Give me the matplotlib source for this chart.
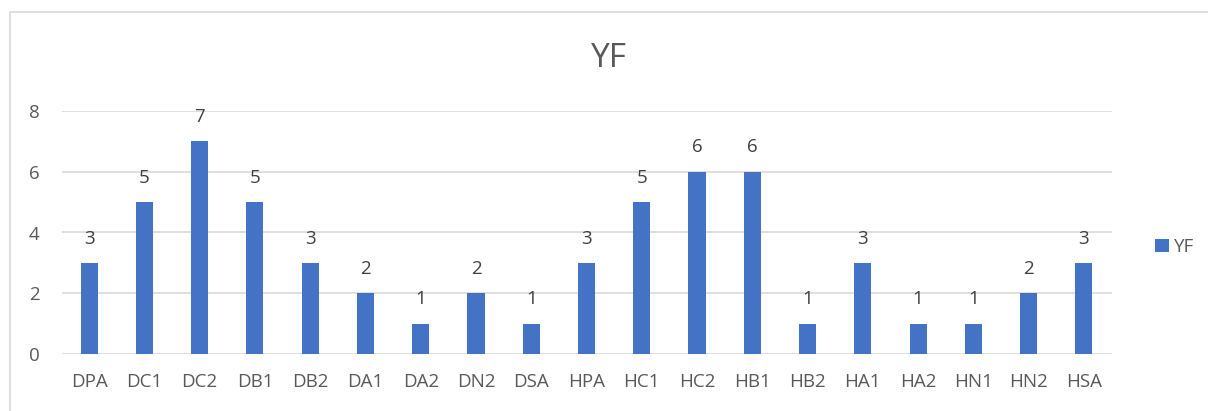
import matplotlib
matplotlib.use("Agg")
import matplotlib.pyplot as plt
from matplotlib.patches import Rectangle

# Datos del grafico
categorias = ["DPA", "DC1", "DC2", "DB1", "DB2", "DA1", "DA2", "DN2", "DSA",
              "HPA", "HC1", "HC2", "HB1", "HB2", "HA1", "HA2", "HN1", "HN2", "HSA"]
valores_yf = [3, 5, 7, 5, 3, 2, 1, 2, 1, 3, 5, 6, 6, 1, 3, 1, 1, 2, 3]
ticks_y = [0, 2, 4, 6, 8]

AZUL = "#4472C4"
GRIS_TXT = "#595959"
GRIS_LINEA = "#D9D9D9"

plt.rcParams["font.family"] = ["Open Sans", "DejaVu Sans"]

W, H = 1208, 411
fig = plt.figure(figsize=(W / 100, H / 100), dpi=100)

# Marco exterior del grafico (estilo Excel)
fig.patches.append(Rectangle((10 / W, -0.1), 1.2, (H - 12) / H + 0.1,
                             transform=fig.transFigure, fill=False,
                             edgecolor=GRIS_LINEA, linewidth=1.2))

izq, der, abajo, arriba = 61.5, 1111.5, 354, 111
ax = fig.add_axes([izq / W, (H - abajo) / H, (der - izq) / W, (abajo - arriba) / H])

x = list(range(len(categorias)))
barras = ax.bar(x, valores_yf, width=0.31, color=AZUL, label="YF", zorder=3)

for xi, v in zip(x, valores_yf):
    ax.annotate(str(v), (xi, v), xytext=(0, 11), textcoords="offset points",
                ha="center", va="bottom", fontsize=13.5, color="#404040")

ax.set_xlim(-0.5, len(categorias) - 0.5)
ax.set_ylim(0, 8)
ax.set_yticks(ticks_y)
ax.set_xticks(x)
ax.set_xticklabels(categorias)
ax.tick_params(axis="both", length=0, labelsize=13.5, labelcolor=GRIS_TXT)
ax.tick_params(axis="y", pad=16)
ax.tick_params(axis="x", pad=14)
ax.grid(axis="y", color=GRIS_LINEA, linewidth=1.2, zorder=0)
for lado in ax.spines.values():
    lado.set_visible(False)

fig.text(609 / W, (H - 58) / H, "YF", ha="center", va="center",
         fontsize=24, color=GRIS_TXT)

fig.legend(handles=[barras], labels=["YF"], loc="center left",
           bbox_to_anchor=(1138 / W, (H - 247) / H), frameon=False,
           fontsize=13.5, labelcolor=GRIS_TXT, handlelength=0.75,
           handleheight=0.75, handletextpad=0.25)

fig.savefig("out.png", dpi=100)
